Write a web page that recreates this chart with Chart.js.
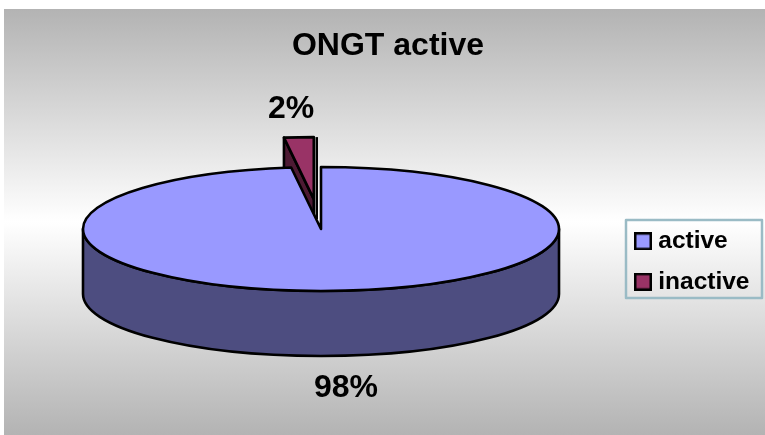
<!DOCTYPE html>
<html>
<head>
<meta charset="utf-8">
<style>
  html, body { margin: 0; padding: 0; background: #fff; }
  canvas { display: block; }
</style>
<script src="https://cdn.jsdelivr.net/npm/chart.js@4/dist/chart.umd.min.js"></script>
</head>
<body>
<canvas id="pie" width="765" height="435"></canvas>
<script>
// chart data
const categories = ['active', 'inactive'];
const shareValues = [98, 2];
const shareLabels = ['98%', '2%'];
const sliceColors = ['#9999FF', '#993366'];
const wallColors = ['#4D4D80', '#4D1A33'];
const explode = [0, 115];

// fake 3D: the flat pie gets squeezed and a wall is drawn under it
const pieX = 321;
const pieY = 229;
const pieRadius = 238;
const squeeze = 62 / 238;
const wallDepth = 65;
const penWidth = 2.6;
const fontName = '"Liberation Sans", Arial, sans-serif';

// legend swatch as small canvas, so box and text gap can be the same as the reference
function makeSwatch(color) {
    const c = document.createElement('canvas');
    c.width = 18;
    c.height = 18;
    const g = c.getContext('2d');
    g.fillStyle = color;
    g.fillRect(1, 1, 16, 16);
    g.strokeStyle = '#000';
    g.lineWidth = 2.5;
    g.strokeRect(1.25, 1.25, 15.5, 15.5);
    return c;
}

function applySqueeze(ctx, el) {
    ctx.translate(pieX, pieY);
    ctx.scale(1, squeeze);
    ctx.translate(-el.x, -el.y);
}

// explode is done here, the offset option would shrink the chart to nothing
function sliceShift(el, i) {
    const mid = (el.startAngle + el.endAngle) / 2;
    return { x: Math.cos(mid) * explode[i], y: Math.sin(mid) * explode[i] };
}

// flat slice through the library, outline afterwards with an unscaled pen
function drawTop(ctx, el, i) {
    const s = sliceShift(el, i);
    ctx.save();
    applySqueeze(ctx, el);
    ctx.translate(s.x, s.y);
    el.draw(ctx);
    ctx.beginPath();
    ctx.moveTo(el.x, el.y);
    ctx.arc(el.x, el.y, el.outerRadius, el.startAngle, el.endAngle);
    ctx.closePath();
    ctx.restore();
    ctx.strokeStyle = '#000';
    ctx.lineWidth = penWidth;
    ctx.lineJoin = 'round';
    ctx.stroke();
}

// front half of the big slice
function drawFrontWall(ctx, el, color) {
    const r = el.outerRadius;
    ctx.beginPath();
    ctx.ellipse(pieX, pieY, r, r * squeeze, 0, 0, Math.PI);
    ctx.ellipse(pieX, pieY + wallDepth, r, r * squeeze, 0, Math.PI, 0, true);
    ctx.closePath();
    ctx.fillStyle = color;
    ctx.fill();
    ctx.strokeStyle = '#000';
    ctx.lineWidth = penWidth;
    ctx.stroke();
}

// left cut side of the exploded slice
function drawCutWall(ctx, el, i, color) {
    const s = sliceShift(el, i);
    const r = el.outerRadius;
    const tipX = pieX + s.x;
    const tipY = pieY + s.y * squeeze;
    const cornerX = tipX + Math.cos(el.startAngle) * r;
    const cornerY = tipY + Math.sin(el.startAngle) * r * squeeze;
    const rightX = tipX + Math.cos(el.endAngle) * r;
    const rightY = tipY + Math.sin(el.endAngle) * r * squeeze;

    ctx.beginPath();
    ctx.moveTo(cornerX, cornerY);
    ctx.lineTo(tipX, tipY);
    ctx.lineTo(tipX, tipY + wallDepth);
    ctx.lineTo(cornerX, cornerY + wallDepth);
    ctx.closePath();
    ctx.fillStyle = color;
    ctx.fill();
    ctx.strokeStyle = '#000';
    ctx.lineWidth = penWidth;
    ctx.lineJoin = 'round';
    ctx.stroke();

    // thin edge right of the slice
    ctx.beginPath();
    ctx.moveTo(rightX + 3, rightY);
    ctx.lineTo(rightX + 3, tipY + 20);
    ctx.lineWidth = 2.5;
    ctx.stroke();
}

const pie3d = {
    id: 'pie3d',
    beforeDraw(chart) {
        const ctx = chart.ctx;
        const grad = ctx.createLinearGradient(0, 9, 0, 435);
        grad.addColorStop(0, '#b3b3b3');
        grad.addColorStop(0.5, '#ffffff');
        grad.addColorStop(1, '#b3b3b3');
        ctx.fillStyle = grad;
        ctx.fillRect(4, 9, 761, 426);
    },
    afterLayout(chart) {
        // legend sits lower than the plot centre, move it by hand
        const lg = chart.legend;
        lg.left = 624;
        lg.top = 213;
        lg.right = 762;
        lg.bottom = 335;
        lg.width = lg.right - lg.left;
        lg.height = lg.bottom - lg.top;
    },
    beforeDatasetsDraw(chart) {
        const ctx = chart.ctx;
        const arcs = chart.getDatasetMeta(0).data;

        // small slice goes behind the big one
        drawCutWall(ctx, arcs[1], 1, wallColors[1]);
        drawTop(ctx, arcs[1], 1);
        drawFrontWall(ctx, arcs[0], wallColors[0]);
        drawTop(ctx, arcs[0], 0);

        // percent labels
        ctx.fillStyle = '#000';
        ctx.font = 'bold 32px ' + fontName;
        ctx.textAlign = 'center';
        ctx.textBaseline = 'middle';
        ctx.fillText(shareLabels[0], 346, 388);
        ctx.fillText(shareLabels[1], 291, 109);
        return false;
    },
    afterDraw(chart) {
        // frame around the legend
        const ctx = chart.ctx;
        ctx.strokeStyle = '#9ABBC5';
        ctx.lineWidth = 2.5;
        ctx.strokeRect(626, 220, 136, 78);
    }
};

new Chart(document.getElementById('pie'), {
    type: 'pie',
    data: {
        labels: categories,
        datasets: [{
            data: shareValues,
            backgroundColor: sliceColors,
            borderWidth: 0
        }]
    },
    options: {
        responsive: false,
        animation: false,
        radius: pieRadius,
        layout: { padding: { left: 11, top: 27 } },
        plugins: {
            title: {
                display: true,
                text: 'ONGT active',
                color: '#000',
                font: { family: fontName, size: 32, weight: 'bold' },
                padding: 0
            },
            legend: {
                position: 'right',
                align: 'start',
                labels: {
                    color: '#000',
                    font: { family: fontName, size: 24.5, weight: 'bold' },
                    usePointStyle: true,
                    pointStyleWidth: 6,
                    boxHeight: 18,
                    padding: 16,
                    generateLabels(chart) {
                        return categories.map((name, i) => ({
                            text: name,
                            pointStyle: makeSwatch(sliceColors[i]),
                            fontColor: '#000',
                            index: i
                        }));
                    }
                }
            },
            tooltip: { enabled: false }
        }
    },
    plugins: [pie3d]
});
</script>
</body>
</html>
